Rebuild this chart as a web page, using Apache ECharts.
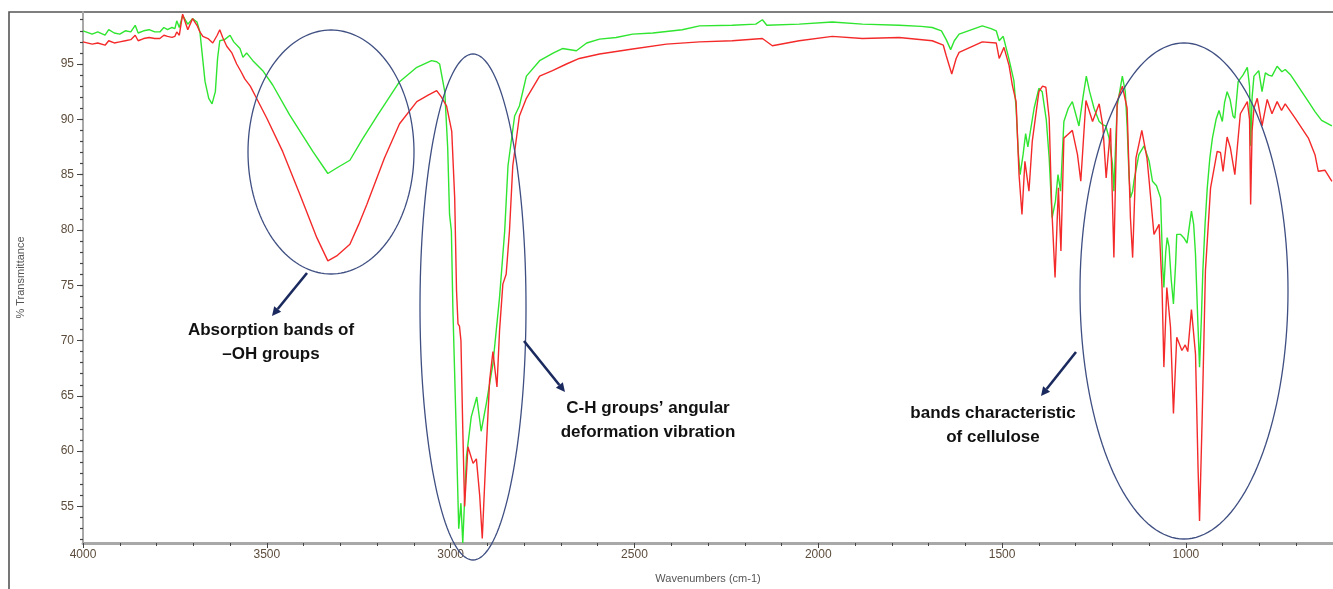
<!DOCTYPE html>
<html>
<head>
<meta charset="utf-8">
<title>FTIR spectrum</title>
<script src="https://cdn.jsdelivr.net/npm/echarts@6/dist/echarts.min.js"></script>
<style>
  html, body { margin: 0; padding: 0; background: #fff; }
  #main { width: 1333px; height: 589px; }
</style>
</head>
<body>
<div id="main"></div>
<script>
// green spectrum
const wnGreen = [
  4000, 3975, 3960, 3940, 3930, 3915, 3900, 3885, 3870, 3858,
  3850, 3835, 3820, 3805, 3791, 3780, 3770, 3758, 3750, 3745,
  3738, 3729, 3715, 3702, 3690, 3682, 3668, 3658, 3649, 3640,
  3634, 3628, 3615, 3600, 3590, 3573, 3565, 3555, 3538, 3511,
  3484, 3438, 3375, 3334, 3310, 3274, 3240, 3200, 3139, 3092,
  3052, 3038, 3030, 3016, 3008, 3003, 2998, 2994, 2985, 2978,
  2972, 2967, 2957, 2944, 2929, 2917, 2903, 2885, 2867, 2853,
  2844, 2826, 2813, 2794, 2758, 2720, 2696, 2658, 2630, 2595,
  2550, 2505, 2450, 2370, 2323, 2234, 2170, 2152, 2140, 2052,
  1962, 1880, 1780, 1720, 1690, 1665, 1652, 1640, 1630, 1617,
  1554, 1530, 1516, 1508, 1497, 1481, 1468, 1462, 1456, 1451,
  1443, 1436, 1430, 1413, 1400, 1391, 1380, 1372, 1364, 1355,
  1348, 1341, 1332, 1320, 1309, 1300, 1291, 1280, 1271, 1262,
  1250, 1236, 1226, 1218, 1209, 1200, 1196, 1191, 1187, 1173,
  1165, 1160, 1155, 1151, 1145, 1141, 1128, 1114, 1100, 1091,
  1080, 1069, 1063, 1060, 1055, 1051, 1046, 1040, 1034, 1028,
  1025, 1015, 1006, 997, 990, 985, 979, 974, 968, 963,
  958, 954, 948, 942, 935, 928, 918, 910, 901, 895,
  888, 880, 872, 867, 858, 845, 833, 827, 824, 820,
  815, 802, 793, 784, 775, 766, 752, 739, 730, 715,
  703, 685, 665, 649, 631, 603
]
const tGreen = [
  98.0, 97.7, 97.9, 97.6, 98.1, 97.8, 97.7, 98.0, 97.9, 98.5,
  97.8, 98.0, 98.1, 97.9, 97.9, 98.3, 98.1, 98.3, 98.2, 98.9,
  98.3, 99.4, 98.6, 99.1, 98.8, 97.9, 93.4, 91.9, 91.4, 92.5,
  95.5, 97.1, 97.2, 97.6, 97.0, 96.4, 95.6, 96.0, 95.3, 94.4,
  93.1, 90.4, 87.1, 85.1, 85.6, 86.3, 88.2, 90.3, 93.4, 94.7,
  95.3, 95.2, 95.0, 92.5, 87.4, 81.4, 79.9, 73.0, 62.0, 53.0,
  55.3, 51.7, 59.5, 63.1, 64.9, 61.8, 64.3, 67.9, 73.9, 79.9,
  85.8, 90.3, 91.2, 93.9, 95.3, 96.0, 96.4, 96.2, 96.9, 97.25,
  97.4, 97.7, 97.8, 98.1, 98.45, 98.5, 98.6, 99.0, 98.5, 98.6,
  98.8, 98.6, 98.5, 98.4, 98.3, 98.0, 97.2, 96.3, 97.1, 97.7,
  98.45, 98.2, 98.0, 97.1, 97.5, 95.4, 93.5, 91.0, 87.0, 85.0,
  86.8, 88.7, 87.5, 91.0, 92.8, 92.5, 90.0, 86.5, 81.1, 82.6,
  85.0, 83.5, 89.8, 91.0, 91.6, 90.5, 89.4, 92.0, 93.9, 92.5,
  91.0, 89.8, 89.5, 89.4, 88.3, 86.0, 83.5, 88.0, 91.2, 93.9,
  92.5, 89.4, 85.0, 82.9, 83.5, 84.5, 86.8, 87.6, 86.2, 84.4,
  84.0, 82.9, 76.5, 74.8, 78.0, 79.3, 78.5, 75.5, 73.3, 77.0,
  79.6, 79.6, 79.3, 78.8, 80.5, 81.7, 80.5, 77.8, 72.0, 67.6,
  72.0, 76.3, 80.5, 83.8, 86.5, 88.3, 90.0, 90.8, 89.8, 91.5,
  92.5, 91.8, 90.3, 90.1, 93.4, 94.0, 94.7, 93.0, 87.6, 92.0,
  93.9, 94.4, 92.5, 94.2, 94.0, 93.9, 94.8, 94.3, 94.5, 94.0,
  93.4, 92.5, 91.5, 90.7, 89.9, 89.4
]

// red spectrum
const wnRed = [
  4000, 3975, 3960, 3940, 3930, 3915, 3900, 3885, 3870, 3858,
  3850, 3835, 3820, 3805, 3791, 3780, 3770, 3758, 3750, 3745,
  3738, 3729, 3715, 3702, 3690, 3682, 3674, 3660, 3647, 3635,
  3628, 3620, 3609, 3595, 3582, 3570, 3560, 3545, 3528, 3500,
  3457, 3410, 3364, 3334, 3310, 3274, 3250, 3228, 3180, 3139,
  3092, 3060, 3038, 3025, 3011, 2997, 2989, 2984, 2980, 2976,
  2972, 2967, 2962, 2953, 2948, 2939, 2930, 2921, 2914, 2905,
  2894, 2885, 2874, 2867, 2858, 2849, 2840, 2831, 2813, 2794,
  2758, 2723, 2685, 2650, 2595, 2505, 2413, 2323, 2234, 2152,
  2125, 2052, 1962, 1880, 1780, 1690, 1660, 1652, 1637, 1625,
  1617, 1554, 1516, 1508, 1495, 1481, 1472, 1462, 1454, 1446,
  1438, 1427, 1418, 1400, 1390, 1381, 1372, 1365, 1356, 1347,
  1340, 1332, 1322, 1309, 1295, 1286, 1272, 1254, 1236, 1226,
  1217, 1205, 1196, 1187, 1173, 1160, 1151, 1145, 1136, 1120,
  1106, 1100, 1087, 1073, 1065, 1060, 1052, 1042, 1034, 1025,
  1020, 1011, 1002, 995, 985, 974, 967, 963, 956, 947,
  933, 915, 906, 899, 888, 879, 867, 852, 833, 827,
  824, 820, 815, 806, 793, 779, 766, 752, 740, 730,
  703, 667, 649, 640, 622, 603
]
const tRed = [
  97.0, 96.8, 96.9, 96.7, 97.1, 96.9, 97.0, 97.1, 97.2, 97.6,
  97.1, 97.3, 97.4, 97.3, 97.3, 97.6, 97.5, 97.4, 97.5, 97.9,
  97.6, 99.5, 98.1, 99.1, 98.5, 97.9, 97.5, 97.3, 96.9, 97.6,
  98.1, 97.4, 96.6, 96.0, 95.0, 94.3, 93.65, 93.0, 91.9, 90.1,
  87.1, 83.2, 79.3, 77.2, 77.65, 78.7, 80.5, 82.3, 86.5, 89.6,
  91.6, 92.2, 92.6, 92.0, 91.2, 88.9, 82.9, 74.5, 71.5, 71.3,
  70.0, 62.0, 55.0, 60.4, 60.4, 58.9, 59.3, 56.0, 52.1, 58.9,
  66.4, 69.0, 65.8, 70.9, 75.1, 76.0, 79.9, 85.8, 90.3, 91.9,
  93.9, 94.4, 95.0, 95.5, 95.9, 96.35, 96.8, 97.0, 97.1, 97.3,
  96.65, 97.1, 97.5, 97.3, 97.4, 97.1, 96.7, 95.75, 94.1, 95.5,
  96.05, 97.0, 96.9, 95.5, 96.5, 94.85, 93.05, 91.6, 85.0, 81.4,
  86.2, 83.5, 88.0, 92.5, 93.0, 92.9, 90.1, 82.0, 75.7, 83.8,
  78.1, 88.3, 88.6, 89.0, 86.8, 84.4, 91.7, 89.8, 91.4, 89.4,
  84.7, 89.2, 77.5, 91.6, 93.0, 91.0, 81.1, 77.5, 86.5, 89.0,
  86.5, 84.4, 79.6, 80.5, 74.8, 67.6, 74.8, 71.2, 63.4, 70.3,
  70.4, 69.1, 69.6, 69.0, 72.8, 68.8, 58.4, 53.7, 62.8, 76.3,
  83.8, 87.1, 87.0, 85.3, 88.4, 87.4, 85.0, 90.5, 91.6, 90.0,
  82.3, 89.0, 91.0, 91.9, 89.4, 91.8, 90.5, 91.6, 90.8, 91.4,
  90.1, 88.3, 86.8, 85.3, 85.4, 84.4
]

const xLabels = [4000, 3500, 3000, 2500, 2000, 1500, 1000]
const yLabels = [55, 60, 65, 70, 75, 80, 85, 90, 95]

if (wnGreen.length !== tGreen.length || wnRed.length !== tRed.length) {
  throw new Error("length mismatch " + wnGreen.length + "/" + tGreen.length + " " + wnRed.length + "/" + tRed.length)
}

const xMinor = []
for (let v = 700; v <= 4000; v += 100) xMinor.push(v)
const yMinor = []
for (let v = 52; v <= 99; v++) yMinor.push(v)

function zip (a, b) {
  return a.map((v, i) => [v, b[i]])
}

// annotation helpers (pixel space)
function ellipse (cx, cy, rx, ry) {
  const pts = []
  for (let i = 0; i <= 160; i++) {
    const a = (i / 160) * Math.PI * 2
    pts.push([cx + rx * Math.cos(a), cy + ry * Math.sin(a)])
  }
  return {
    type: "polyline",
    shape: { points: pts },
    style: { stroke: "#3f4f82", lineWidth: 1.3, fill: null },
    z: 10
  }
}
function arrow (x1, y1, x2, y2) {
  const ang = Math.atan2(y2 - y1, x2 - x1)
  const len = 9, half = 4.5
  const bx = x2 - len * Math.cos(ang), by = y2 - len * Math.sin(ang)
  const px = -Math.sin(ang) * half, py = Math.cos(ang) * half
  return [
    {
      type: "line",
      shape: { x1: x1, y1: y1, x2: bx, y2: by },
      style: { stroke: "#1b2a5e", lineWidth: 2.6 },
      z: 10
    },
    {
      type: "polygon",
      shape: { points: [[x2, y2], [bx + px, by + py], [bx - px, by - py]] },
      style: { fill: "#1b2a5e" },
      z: 10
    }
  ]
}
function label (x, y, text) {
  return {
    type: "text",
    x: x,
    y: y,
    style: {
      text: text,
      fill: "#111",
      font: "bold 17px 'Liberation Sans', Arial, sans-serif",
      textAlign: "center",
      textVerticalAlign: "middle"
    },
    z: 10
  }
}

const chart = echarts.init(document.getElementById("main"))

const axisFont = { fontFamily: "'Liberation Sans', Arial, sans-serif", fontSize: 12, color: "#5c4c3c" }
const plain = v => String(v)

const option = {
  animation: false,
  backgroundColor: "#fff",
  grid: { left: 83, right: 0, top: 12, bottom: 43 },
  xAxis: [
    {
      type: "value",
      inverse: true,
      min: 600,
      max: 4000,
      name: "Wavenumbers (cm-1)",
      nameLocation: "middle",
      nameGap: 30,
      nameTextStyle: { fontFamily: "'Liberation Sans', Arial, sans-serif", fontSize: 11, color: "#555" },
      axisLine: { show: true, lineStyle: { color: "#a8a8a8", width: 3 } },
      axisTick: { show: true, customValues: xLabels, length: 5, inside: false, lineStyle: { color: "#444", width: 1 } },
      axisLabel: Object.assign({ customValues: xLabels, margin: 6, formatter: plain }, axisFont),
      splitLine: { show: false }
    },
    {
      type: "value",
      inverse: true,
      min: 600,
      max: 4000,
      position: "bottom",
      axisLine: { show: false },
      axisTick: { show: true, customValues: xMinor, length: 3, lineStyle: { color: "#444", width: 1 } },
      axisLabel: { show: false },
      splitLine: { show: false }
    }
  ],
  yAxis: [
    {
      type: "value",
      min: 51.7,
      max: 99.7,
      name: "% Transmittance",
      nameLocation: "middle",
      nameGap: 57,
      nameTextStyle: { fontFamily: "'Liberation Sans', Arial, sans-serif", fontSize: 11, color: "#555" },
      axisLine: { show: true, lineStyle: { color: "#a8a8a8", width: 2 } },
      axisTick: { show: true, customValues: yLabels, length: 6, lineStyle: { color: "#444", width: 1 } },
      axisLabel: Object.assign({ customValues: yLabels, margin: 9, formatter: plain }, axisFont),
      splitLine: { show: false }
    },
    {
      type: "value",
      min: 51.7,
      max: 99.7,
      position: "left",
      offset: 0,
      axisLine: { show: false },
      axisTick: { show: true, customValues: yMinor, length: 3, lineStyle: { color: "#444", width: 1.2 } },
      axisLabel: { show: false },
      splitLine: { show: false }
    }
  ],
  series: [
    {
      name: "green",
      type: "line",
      data: zip(wnGreen, tGreen),
      showSymbol: false,
      symbol: "none",
      lineStyle: { color: "#2fe52f", width: 1.4 },
      z: 3
    },
    {
      name: "red",
      type: "line",
      data: zip(wnRed, tRed),
      showSymbol: false,
      symbol: "none",
      lineStyle: { color: "#f42a2a", width: 1.4 },
      z: 4
    }
  ],
  graphic: [
    {
      type: "rect",
      shape: { x: 9, y: 12, width: 1340, height: 590 },
      style: { stroke: "#555", lineWidth: 1.6, fill: null },
      silent: true
    },
    ellipse(331, 152, 83, 122),
    ellipse(473, 307, 53, 253),
    ellipse(1184, 291, 104, 248),
    ...arrow(307, 273, 272, 316),
    ...arrow(524, 341, 565, 392),
    ...arrow(1076, 352, 1041, 396),
    label(271, 330, "Absorption bands of"),
    label(271, 354, "–OH groups"),
    label(648, 408, "C-H groups’ angular"),
    label(648, 432, "deformation vibration"),
    label(993, 413, "bands characteristic"),
    label(993, 437, "of cellulose")
  ]
}

chart.setOption(option)
</script>
</body>
</html>
